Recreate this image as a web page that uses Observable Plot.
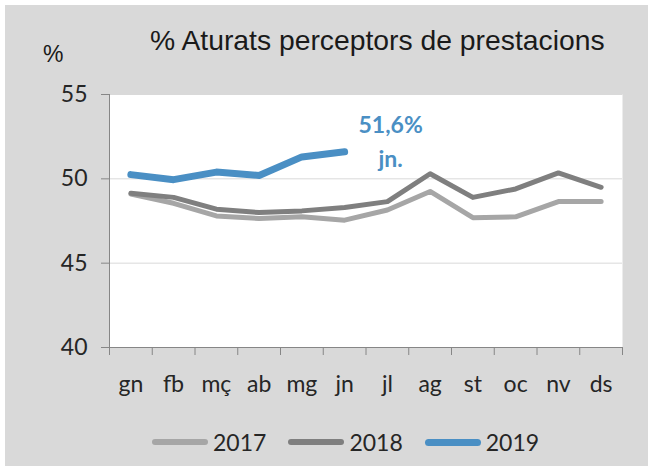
<!DOCTYPE html>
<html>
<head>
<meta charset="utf-8">
<script src="https://cdn.jsdelivr.net/npm/d3@7"></script>
<script src="https://cdn.jsdelivr.net/npm/@observablehq/plot@0.6"></script>
<style>
  html, body { margin: 0; padding: 0; background: #ffffff; }
  #wrap { position: relative; width: 653px; height: 471px; overflow: hidden; }
  #bg { position: absolute; left: 5px; top: 5px; width: 643px; height: 461px; background: #d9d9d9; }
  #chart { position: absolute; left: 0; top: 0; }
  #title { position: absolute; left: 150px; top: 24px; font-family: "Liberation Sans", Arial, sans-serif; font-size: 28.3px; color: #1a1a1a; white-space: nowrap; }
  #unit { position: absolute; left: 43px; top: 41px; font-family: "Liberation Sans", Arial, sans-serif; font-size: 23px; color: #1a1a1a; }
  #legend { position: absolute; left: 152px; top: 428px; display: flex; align-items: center; font-family: Lato, sans-serif; font-size: 23px; color: #262626; }
  .item { display: flex; align-items: center; margin-right: 22px; }
  .sw { width: 56px; border-radius: 4px; margin-right: 5px; }
</style>
</head>
<body>
<div id="wrap">
  <div id="bg"></div>
  <div id="chart"></div>
  <div id="title">% Aturats perceptors de prestacions</div>
  <div id="unit">%</div>
  <div id="legend"></div>
</div>
<script>
const months = ["gn","fb","mç","ab","mg","jn","jl","ag","st","oc","nv","ds"];
const years = ["2017","2018","2019"];
const v2017 = [49.1, 48.55, 47.8, 47.65, 47.75, 47.55, 48.15, 49.25, 47.7, 47.75, 48.65, 48.65];
const v2018 = [49.15, 48.9, 48.2, 48.0, 48.1, 48.3, 48.65, 50.3, 48.9, 49.4, 50.35, 49.5];
const v2019 = [50.25, 49.95, 50.4, 50.2, 51.3, 51.6];
const yTicks = [40, 45, 50, 55];
const colors = ["#a6a6a6", "#7f7f7f", "#4a8fc4"];
const widths = [5, 5, 7];

const series = [v2017, v2018, v2019];
const rows = series.map((vals, s) => vals.map((value, i) => ({i, month: months[i], value, year: years[s]})));
const last2019 = rows[2][rows[2].length - 1];
const fmt = v => v.toFixed(1).replace(".", ",") + "%";

const font = "Lato, sans-serif";
const chart = Plot.plot({
  width: 653,
  height: 471,
  marginLeft: 109,
  marginRight: 31,
  marginTop: 94,
  marginBottom: 124,
  style: {background: "transparent", fontFamily: font},
  x: {type: "linear", domain: [0, months.length], axis: null},
  y: {domain: [40, 55], axis: null},
  marks: [
    Plot.frame({fill: "white", stroke: null}),
    Plot.gridY(yTicks.slice(1), {stroke: "#d9d9d9", strokeOpacity: 1}),
    Plot.ruleY([40], {stroke: "#868686"}),
    Plot.ruleX([0], {stroke: "#868686"}),
    Plot.axisY(yTicks, {anchor: "left", tickSize: 8, tickPadding: 14, fontSize: 23, stroke: "#868686", fill: "#262626", label: null, tickFormat: d => String(d)}),
    Plot.axisX(d3.range(0, months.length + 1), {anchor: "bottom", tickSize: 8, stroke: "#868686", tickFormat: () => "", label: null}),
    Plot.axisX(months.map((m, i) => i + 0.5), {anchor: "bottom", tickSize: 0, tickPadding: 28, fontSize: 23, fill: "#262626", label: null, tickFormat: t => months[Math.floor(t)]}),
    ...rows.map((r, s) => Plot.line(r, {x: d => d.i + 0.5, y: "value", stroke: colors[s], strokeWidth: widths[s], strokeLinejoin: "round", strokeLinecap: "round"})),
    Plot.text([last2019], {x: d => d.i + 0.5, y: "value", text: d => fmt(d.value), dx: 46, dy: -26, fill: colors[2], fontWeight: "bold", fontSize: 23, fontFamily: font}),
    Plot.text([last2019], {x: d => d.i + 0.5, y: "value", text: d => d.month + ".", dx: 46, dy: 8, fill: colors[2], fontWeight: "bold", fontSize: 23, fontFamily: font})
  ]
});
document.getElementById("chart").appendChild(chart);

const legend = document.getElementById("legend");
years.forEach((y, s) => {
  const item = document.createElement("div");
  item.className = "item";
  const sw = document.createElement("div");
  sw.className = "sw";
  sw.style.height = (s === 2 ? 7 : 6) + "px";
  sw.style.background = colors[s];
  const t = document.createElement("span");
  t.textContent = y;
  item.appendChild(sw);
  item.appendChild(t);
  legend.appendChild(item);
});
</script>
</body>
</html>
